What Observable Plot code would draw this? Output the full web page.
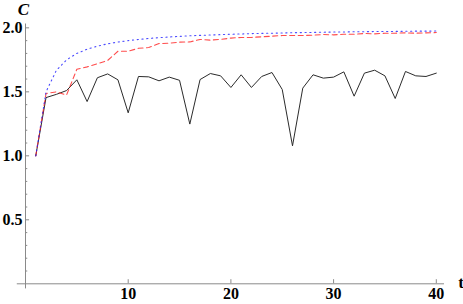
<!DOCTYPE html>
<html>
<head>
<meta charset="utf-8">
<script src="https://cdn.jsdelivr.net/npm/d3@7"></script>
<script src="https://cdn.jsdelivr.net/npm/@observablehq/plot@0.6"></script>
<style>
  html, body { margin: 0; padding: 0; background: #fff; }
  svg { display: block; }
</style>
</head>
<body>
<div id="chart"></div>
<script>
const tValues = [1,2,3,4,5,6,7,8,9,10,11,12,13,14,15,16,17,18,19,20,21,22,23,24,25,26,27,28,29,30,31,32,33,34,35,36,37,38,39,40];
const blackSeries = [1.0,1.455,1.48,1.51,1.594,1.424,1.61,1.64,1.594,1.336,1.62,1.617,1.586,1.615,1.59,1.248,1.596,1.643,1.625,1.534,1.633,1.534,1.62,1.651,1.518,1.078,1.529,1.633,1.607,1.615,1.656,1.466,1.646,1.669,1.625,1.448,1.659,1.625,1.62,1.646];
const redSeries = [1.0,1.487,1.5,1.475,1.677,1.695,1.72,1.745,1.817,1.817,1.84,1.846,1.877,1.88,1.888,1.89,1.909,1.904,1.91,1.92,1.925,1.925,1.93,1.935,1.94,1.94,1.94,1.943,1.948,1.945,1.95,1.95,1.956,1.953,1.958,1.958,1.961,1.958,1.961,1.963];
const blueSeries = [1.0,1.5,1.667,1.75,1.8,1.833,1.857,1.875,1.889,1.9,1.909,1.917,1.923,1.929,1.933,1.938,1.941,1.944,1.947,1.95,1.952,1.955,1.957,1.958,1.96,1.962,1.963,1.964,1.966,1.967,1.968,1.969,1.97,1.971,1.971,1.972,1.973,1.974,1.974,1.975];
const xTicks = [10, 20, 30, 40];
const yTicks = [0.5, 1.0, 1.5, 2.0];
const yMinorTicks = [0.1,0.2,0.3,0.4,0.6,0.7,0.8,0.9,1.1,1.2,1.3,1.4,1.6,1.7,1.8,1.9];
const xLabel = "t";
const yLabel = "C";

const rows = (ys) => tValues.map((t, i) => ({t, v: ys[i]}));

const axisColor = "#8a8a8a";
const font = "'Liberation Serif', 'DejaVu Serif', serif";

const chart = Plot.plot({
  width: 463,
  height: 304,
  marginLeft: 25,
  marginRight: 19,
  marginTop: 23.5,
  marginBottom: 20.7,
  style: {fontFamily: font, color: "#000", background: "#fff", overflow: "visible"},
  x: {domain: [0, 40.8], axis: null},
  y: {domain: [0, 2.03], axis: null},
  marks: [
    // axis lines
    Plot.ruleY([0], {x1: -0.8, x2: 40.8, stroke: axisColor, strokeWidth: 1}),
    Plot.ruleX([0], {y1: -0.04, y2: 2.03, stroke: axisColor, strokeWidth: 1}),
    // ticks (inward)
    Plot.ruleX(xTicks, {x: d => d, y1: 0, y2: 0.032, stroke: axisColor}),
    Plot.ruleY(yTicks, {y: d => d, x1: 0, x2: 0.4, stroke: axisColor}),
    Plot.ruleY(yMinorTicks, {y: d => d, x1: 0, x2: 0.22, stroke: axisColor}),
    // tick labels
    Plot.axisX({ticks: xTicks, tickSize: 0, tickPadding: 4, fontSize: 16, fontWeight: "bold", label: null, tickFormat: d3.format("d")}),
    Plot.axisY({ticks: yTicks, tickSize: 0, tickPadding: 3, fontSize: 16, fontWeight: "bold", label: null, tickFormat: d3.format(".1f")}),
    // series
    Plot.line(rows(blackSeries), {x: "t", y: "v", stroke: "#2b2b2b", strokeWidth: 1}),
    Plot.line(rows(redSeries), {x: "t", y: "v", stroke: "#ff2020", strokeOpacity: 0.8, strokeWidth: 1.1, strokeDasharray: "5,3.5"}),
    Plot.line(rows(blueSeries), {x: "t", y: "v", stroke: "#2020ff", strokeOpacity: 0.8, strokeWidth: 1.1, strokeDasharray: "1.2,3.6"}),
    // axis titles
    Plot.text([yLabel], {text: d => d, frameAnchor: "top-left", dx: -2, dy: -14.5, fontSize: 17, fontWeight: "bold", fontStyle: "italic", textAnchor: "middle", lineAnchor: "middle"}),
    Plot.text([xLabel], {text: d => d, frameAnchor: "bottom-right", dx: 16.5, dy: -1.5, fontSize: 17, fontWeight: "bold", textAnchor: "middle", lineAnchor: "middle"})
  ]
});
document.getElementById("chart").appendChild(chart);
</script>
</body>
</html>
